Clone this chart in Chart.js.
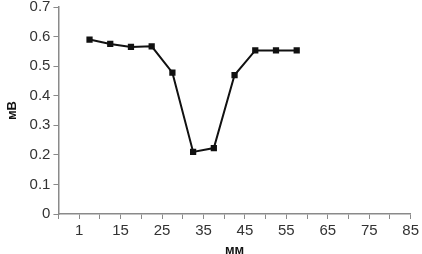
<!DOCTYPE html>
<html lang="en">
<head>
    <meta charset="UTF-8">
    <title>мВ vs мм</title>
    <script src="https://cdn.jsdelivr.net/npm/chart.js"></script>
    <style>
        html, body { margin: 0; padding: 0; background: #fff; }
        #wrap { width: 422px; height: 254px; }
    </style>
</head>
<body>
    <div id="wrap"><canvas id="profileChart"></canvas></div>

    <script>
        // position along the sample, mm
        const positions = [7.5, 12.5, 17.5, 22.5, 27.5, 32.5, 37.5, 42.5, 47.5, 52.5, 57.5];
        // signal, mV
        const signal = [0.59, 0.575, 0.565, 0.567, 0.478, 0.21, 0.223, 0.47, 0.553, 0.553, 0.553];

        // x tick labels as printed on the original axis
        const xTickValues = [5, 15, 25, 35, 45, 55, 65, 75, 85];
        const xTickLabels = ["1", "15", "25", "35", "45", "55", "65", "75", "85"];

        const axisGray = "#8a8a8a";
        const textGray = "#333";

        let ctx = document.getElementById("profileChart").getContext("2d");

        window.myChart = new Chart(ctx, {
            type: "scatter",
            data: {
                datasets: [{
                    data: positions.map((x, i) => ({ x: x, y: signal[i] })),
                    showLine: true,
                    borderColor: "#111",
                    borderWidth: 2,
                    pointStyle: "rect",
                    pointRadius: 3,
                    pointBackgroundColor: "#111",
                    pointBorderColor: "#111",
                    tension: 0
                }]
            },
            options: {
                responsive: true,
                maintainAspectRatio: false,
                animation: false,
                layout: { padding: { top: 0, right: 4, left: 5, bottom: -3 } },
                plugins: {
                    legend: { display: false },
                    tooltip: { enabled: false }
                },
                scales: {
                    x: {
                        type: "linear",
                        min: 0,
                        max: 85,
                        border: { color: axisGray, width: 1.5 },
                        grid: { drawOnChartArea: false, color: axisGray, tickLength: 5 },
                        ticks: {
                            stepSize: 5,
                            autoSkip: false,
                            maxRotation: 0,
                            color: textGray,
                            font: { family: "Liberation Sans, Arial", size: 15 },
                            padding: 3,
                            callback: function (value) {
                                let i = xTickValues.indexOf(value);
                                return i >= 0 ? xTickLabels[i] : "";
                            }
                        },
                        title: {
                            display: true,
                            text: "мм",
                            color: "#111",
                            font: { family: "Liberation Sans, Arial", size: 13, weight: "bold", lineHeight: 1 },
                            padding: { top: 1, bottom: 0 }
                        }
                    },
                    y: {
                        min: 0,
                        max: 0.7,
                        // let the top label sit closer to the edge, like the original
                        afterFit: function (scale) { scale.paddingTop = 7; },
                        border: { color: axisGray, width: 1.5 },
                        grid: { drawOnChartArea: false, color: axisGray, tickLength: 5 },
                        ticks: {
                            stepSize: 0.1,
                            color: textGray,
                            font: { family: "Liberation Sans, Arial", size: 15 },
                            padding: 3
                        },
                        title: {
                            display: true,
                            text: "мВ",
                            color: "#111",
                            font: { family: "Liberation Sans, Arial", size: 13, weight: "bold" },
                            padding: { top: 0, bottom: 6 }
                        }
                    }
                }
            }
        });
    </script>
</body>
</html>
